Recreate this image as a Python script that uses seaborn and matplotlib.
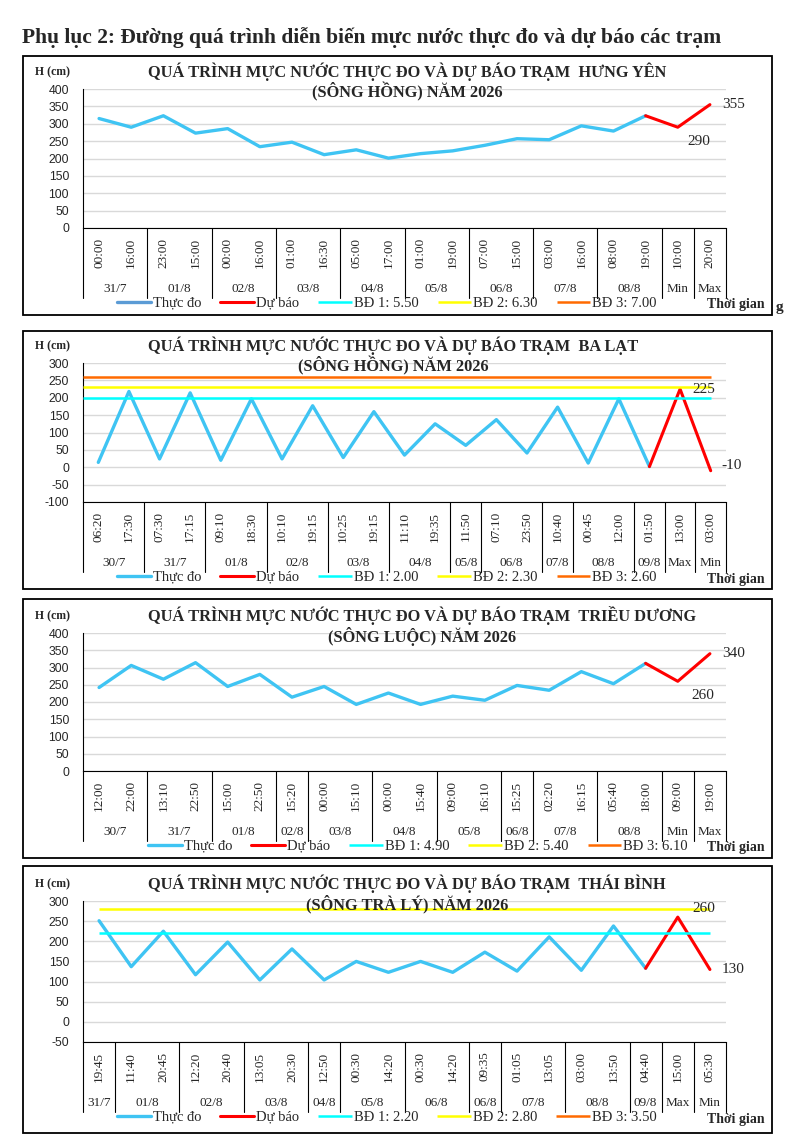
import matplotlib
matplotlib.use("Agg")
import matplotlib.pyplot as plt
from matplotlib.patches import Rectangle
import numpy as np
import seaborn as sns

# ---------------------------------------------------------
# DATA
# ---------------------------------------------------------
# Trạm Hưng Yên (sông Hồng)
hy_groups = ["31/7", "01/8", "02/8", "03/8", "04/8", "05/8", "06/8", "07/8", "08/8", "Min", "Max"]
hy_group_sizes = [2, 2, 2, 2, 2, 2, 2, 2, 2, 1, 1]
hy_times = ["00:00", "16:00", "23:00", "15:00", "00:00", "16:00", "01:00", "16:30", "05:00", "17:00",
            "01:00", "19:00", "07:00", "15:00", "03:00", "16:00", "08:00", "19:00", "10:00", "20:00"]
hy_observed = [315, 290, 323, 273, 286, 234, 247, 211, 225, 201, 214, 222, 238, 257, 254, 294, 279, 323]
hy_forecast = [323, 290, 355]
hy_levels = [550, 630, 700]
hy_level_names = ["BĐ 1: 5.50", "BĐ 2: 6.30", "BĐ 3: 7.00"]

# Trạm Ba Lạt (sông Hồng)
bl_groups = ["30/7", "31/7", "01/8", "02/8", "03/8", "04/8", "05/8", "06/8", "07/8", "08/8", "09/8", "Max", "Min"]
bl_group_sizes = [2, 2, 2, 2, 2, 2, 1, 2, 1, 2, 1, 1, 1]
bl_times = ["06:20", "17:30", "07:30", "17:15", "09:10", "18:30", "10:10", "19:15", "10:25", "19:15", "11:10",
            "19:35", "11:50", "07:10", "23:50", "10:40", "00:45", "12:00", "01:50", "13:00", "03:00"]
bl_observed = [14, 218, 24, 214, 20, 197, 24, 177, 28, 160, 35, 125, 63, 137, 41, 173, 12, 197, 2]
bl_forecast = [2, 225, -10]
bl_levels = [200, 230, 260]
bl_level_names = ["BĐ 1: 2.00", "BĐ 2: 2.30", "BĐ 3: 2.60"]

# Trạm Triều Dương (sông Luộc)
td_groups = ["30/7", "31/7", "01/8", "02/8", "03/8", "04/8", "05/8", "06/8", "07/8", "08/8", "Min", "Max"]
td_group_sizes = [2, 2, 2, 1, 2, 2, 2, 1, 2, 2, 1, 1]
td_times = ["12:00", "22:00", "13:10", "22:50", "15:00", "22:50", "15:20", "00:00", "15:10", "00:00",
            "15:40", "09:00", "16:10", "15:25", "02:20", "16:15", "05:40", "18:00", "09:00", "19:00"]
td_observed = [242, 306, 266, 314, 245, 280, 214, 245, 193, 226, 193, 217, 205, 248, 234, 288, 253, 312]
td_forecast = [312, 260, 340]
td_levels = [490, 540, 610]
td_level_names = ["BĐ 1: 4.90", "BĐ 2: 5.40", "BĐ 3: 6.10"]

# Trạm Thái Bình (sông Trà Lý)
tb_groups = ["31/7", "01/8", "02/8", "03/8", "04/8", "05/8", "06/8", "06/8", "07/8", "08/8", "09/8", "Max", "Min"]
tb_group_sizes = [1, 2, 2, 2, 1, 2, 2, 1, 2, 2, 1, 1, 1]
tb_times = ["19:45", "11:40", "20:45", "12:20", "20:40", "13:05", "20:30", "12:50", "00:30", "14:20",
            "00:30", "14:20", "09:35", "01:05", "13:05", "03:00", "13:50", "04:40", "15:00", "05:30"]
tb_observed = [251, 137, 225, 117, 198, 104, 181, 104, 150, 123, 150, 123, 173, 126, 211, 128, 238, 133]
tb_forecast = [133, 260, 130]
tb_levels = [220, 280, 350]
tb_level_names = ["BĐ 1: 2.20", "BĐ 2: 2.80", "BĐ 3: 3.50"]

# ---------------------------------------------------------
# STYLE
# ---------------------------------------------------------
W, H = 791, 1147
OBS_COLOR = "#3FC4F3"
FC_COLOR = "#FF0000"
LEVEL_COLORS = ["#00FFFF", "#FFFF00", "#FF6A00"]
SERIF = ["Liberation Serif", "DejaVu Serif"]
SANS = ["Liberation Sans", "DejaVu Sans"]

sns.set_style("white")
plt.rcParams["font.family"] = SERIF
plt.rcParams["axes.unicode_minus"] = False

panels = [
    dict(title="QUÁ TRÌNH MỰC NƯỚC THỰC ĐO VÀ DỰ BÁO TRẠM  HƯNG YÊN\n(SÔNG HỒNG) NĂM 2026",
         groups=hy_groups, sizes=hy_group_sizes, times=hy_times, observed=hy_observed,
         forecast=hy_forecast, levels=hy_levels, level_names=hy_level_names,
         ylim=(0, 400), box=(23, 56, 772, 315), ax=(83, 89, 726, 228), legend_x=387,
         level_start=0, label_offsets=[(15, -10), (17, 0)], legend_obs="#5B9BD5", extra_g=True),
    dict(title="QUÁ TRÌNH MỰC NƯỚC THỰC ĐO VÀ DỰ BÁO TRẠM  BA LẠT\n(SÔNG HỒNG) NĂM 2026",
         groups=bl_groups, sizes=bl_group_sizes, times=bl_times, observed=bl_observed,
         forecast=bl_forecast, levels=bl_levels, level_names=bl_level_names,
         ylim=(-100, 300), box=(23, 331, 772, 589), ax=(83, 363, 726, 502), legend_x=387,
         level_start=-0.5, label_offsets=[(17, 0), (15, 4)], legend_obs=None, extra_g=False),
    dict(title="QUÁ TRÌNH MỰC NƯỚC THỰC ĐO VÀ DỰ BÁO TRẠM  TRIỀU DƯƠNG\n(SÔNG LUỘC) NĂM 2026",
         groups=td_groups, sizes=td_group_sizes, times=td_times, observed=td_observed,
         forecast=td_forecast, levels=td_levels, level_names=td_level_names,
         ylim=(0, 400), box=(23, 599, 772, 858), ax=(83, 633, 726, 771), legend_x=418,
         level_start=0, label_offsets=[(18, -10), (17, 0)], legend_obs=None, extra_g=False),
    dict(title="QUÁ TRÌNH MỰC NƯỚC THỰC ĐO VÀ DỰ BÁO TRẠM  THÁI BÌNH\n(SÔNG TRÀ LÝ) NĂM 2026",
         groups=tb_groups, sizes=tb_group_sizes, times=tb_times, observed=tb_observed,
         forecast=tb_forecast, levels=tb_levels, level_names=tb_level_names,
         ylim=(-50, 300), box=(23, 866, 772, 1133), ax=(83, 901, 726, 1042), legend_x=387,
         level_start=0, label_offsets=[(19, 6), (17, 0)], legend_obs=None, extra_g=False),
]


def fx(px):
    return px / W


def fy(py):
    return 1 - py / H


def draw_panel(fig, p):
    n = len(p["times"])
    x0, y0, x1, y1 = p["ax"]
    ax_h = y1 - y0
    ax = fig.add_axes([fx(x0), fy(y1), (x1 - x0) / W, ax_h / H])

    # frame around the panel
    bx0, by0, bx1, by1 = p["box"]
    fig.add_artist(Rectangle((fx(bx0), fy(by1)), (bx1 - bx0) / W, (by1 - by0) / H,
                             transform=fig.transFigure, fill=False, lw=1.3, ec="black"))

    n_obs = len(p["observed"])
    idx_obs = np.arange(n_obs)
    idx_fc = np.arange(n_obs - 1, n_obs - 1 + len(p["forecast"]))

    sns.lineplot(x=idx_obs, y=p["observed"], ax=ax, color=OBS_COLOR, lw=2.4, legend=False, zorder=3)
    obs_line = ax.lines[-1]
    sns.lineplot(x=idx_fc, y=p["forecast"], ax=ax, color=FC_COLOR, lw=2.2, legend=False, zorder=3)
    fc_line = ax.lines[-1]

    level_handles = []
    for lv, col in zip(p["levels"], LEVEL_COLORS):
        h = ax.hlines(lv, p["level_start"], n - 1, colors=col, lw=1.8, zorder=4)
        level_handles.append(h)

    # data labels on forecast min / max
    for k, (dx, dy) in zip([1, 2], p["label_offsets"]):
        ax.annotate(f"{p['forecast'][k]}", (idx_fc[k], p["forecast"][k]), xytext=(dx, dy),
                    textcoords="offset points", ha="center", va="center", fontsize=11,
                    annotation_clip=False, zorder=5)

    lo, hi = p["ylim"]
    ax.set_ylim(lo, hi)
    ax.set_xlim(-0.5, n - 0.5)
    ax.set_yticks(np.arange(lo, hi + 1, 50))
    ax.yaxis.grid(True, color="#D9D9D9", lw=1)
    ax.set_axisbelow(True)
    ax.set_xlabel("")
    ax.set_ylabel("")
    sns.despine(ax=ax, top=True, right=True)
    for s in ["left", "bottom"]:
        ax.spines[s].set_color("black")
        ax.spines[s].set_linewidth(0.8)

    ax.tick_params(axis="y", direction="out", length=4, width=0.8, pad=6, labelsize=8.8)
    for t in ax.get_yticklabels():
        t.set_family(SANS)
    ax.set_xticks(np.arange(n))
    ax.set_xticklabels(p["times"], rotation=90, fontsize=9.5)
    ax.tick_params(axis="x", length=0, pad=7)

    # multi-level category axis: group separators and day labels
    trans = ax.get_xaxis_transform()
    bounds = np.concatenate([[0], np.cumsum(p["sizes"])]) - 0.5
    for b in bounds:
        ax.plot([b, b], [0, -70 / ax_h], transform=trans, color="black", lw=0.8, clip_on=False)
    for g, start, size in zip(p["groups"], bounds[:-1], p["sizes"]):
        ax.text(start + size / 2, -61 / ax_h, g, transform=trans, ha="center", va="center",
                fontsize=9.5)

    # titles and axis captions
    fig.text(fx(148), fy(y0 - 7), p["title"], ha="left", va="center", multialignment="center",
             fontsize=11.8, fontweight="bold", linespacing=1.1)
    fig.text(fx(35), fy(y0 - 17), "H (cm)", ha="left", va="center", fontsize=8.5, fontweight="bold")
    fig.text(fx(707), fy(y1 + 77), "Thời gian", ha="left", va="center", fontsize=10, fontweight="bold")
    if p["extra_g"]:
        fig.text(fx(776), fy(y1 + 80), "g", ha="left", va="center", fontsize=11, fontweight="bold")

    leg = ax.legend([obs_line, fc_line] + level_handles, ["Thực đo", "Dự báo"] + p["level_names"],
                    loc="center", bbox_to_anchor=(fx(p["legend_x"]), fy(y1 + 75)),
                    bbox_transform=fig.transFigure, ncol=5, frameon=False, fontsize=10.5,
                    handlelength=2.3, handletextpad=0.15, columnspacing=1.3, borderpad=0)
    if p["legend_obs"]:
        leg.legend_handles[0].set_color(p["legend_obs"])
    return ax


fig = plt.figure(figsize=(W / 100, H / 100), dpi=100)
fig.text(fx(22), fy(38), "Phụ lục 2: Đường quá trình diễn biến mực nước thực đo và dự báo các trạm",
         ha="left", va="center", fontsize=15.5, fontweight="bold")

for p in panels:
    draw_panel(fig, p)

fig.savefig("out.png", dpi=100)
plt.close(fig)
